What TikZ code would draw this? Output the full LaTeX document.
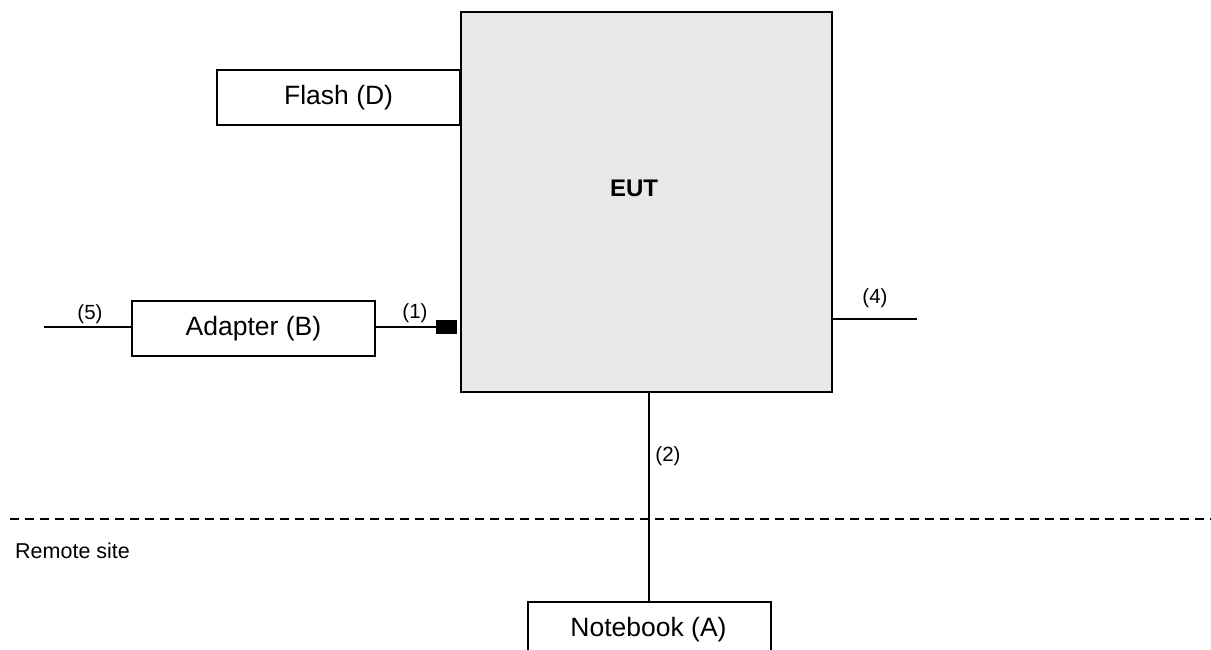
\documentclass[tikz,border=0pt]{standalone}
\usepackage{fontspec}
\setmainfont{Liberation Sans}
\begin{document}
\begin{tikzpicture}[x=1pt,y=-1pt,
  box/.style={draw,line width=1.8pt,minimum width=243pt,minimum height=55pt,inner sep=0pt,font=\fontsize{26.5}{30}\selectfont},
  conn/.style={line width=1.7pt},
  lbl/.style={font=\fontsize{20.5}{24}\selectfont,inner sep=0pt}]
\useasboundingbox (0,0) rectangle (1211,650);
\clip (0,0) rectangle (1211,650);
\node[draw,fill={rgb,255:red,232;green,232;blue,232},line width=1.8pt,minimum width=371pt,minimum height=380pt,inner sep=0pt] (eut) at (646.5,202) {};
\node[font=\bfseries\fontsize{24}{28}\selectfont] (euttext) at (634,188) {EUT};
\node[box,anchor=north east] (flash) at (461,69) {Flash (D)};
\node[box,anchor=north west] (adapter) at (131,300) {Adapter (B)};
\node[box,anchor=north west,minimum height=80pt] (nb) at (527,601) {};
\node[font=\fontsize{26.5}{30}\selectfont] (nbtext) at (648.5,630) {Notebook (A)};
\node[fill=black,minimum width=21pt,minimum height=14pt,inner sep=0pt,anchor=east] (plug) at (457,327) {};
\coordinate (p5) at (44,327);
\coordinate (p4) at (917,319);
\coordinate (e4) at (832,319);
\coordinate (etop) at (649,392);
\draw[conn] (p5) -- (adapter.west |- p5);
\draw[conn] (adapter.east |- plug) -- (plug.west);
\draw[conn] (e4) -- (p4);
\draw[conn] (etop) -- (etop |- nb.north);
\coordinate (dl) at (10,519);
\coordinate (dr) at (1211,519);
\draw[line width=1.3pt,dash pattern=on 9pt off 6pt] (dl) -- (dr);
\node[lbl] (l5) at (90,314) {(5)};
\node[lbl] (l1) at (415,313) {(1)};
\node[lbl] (l4) at (875,298) {(4)};
\node[lbl] (l2) at (668,456) {(2)};
\node[font=\fontsize{21.5}{24}\selectfont,inner sep=0pt,anchor=west] (rs) at (15,551) {Remote site};
\end{tikzpicture}
\end{document}
